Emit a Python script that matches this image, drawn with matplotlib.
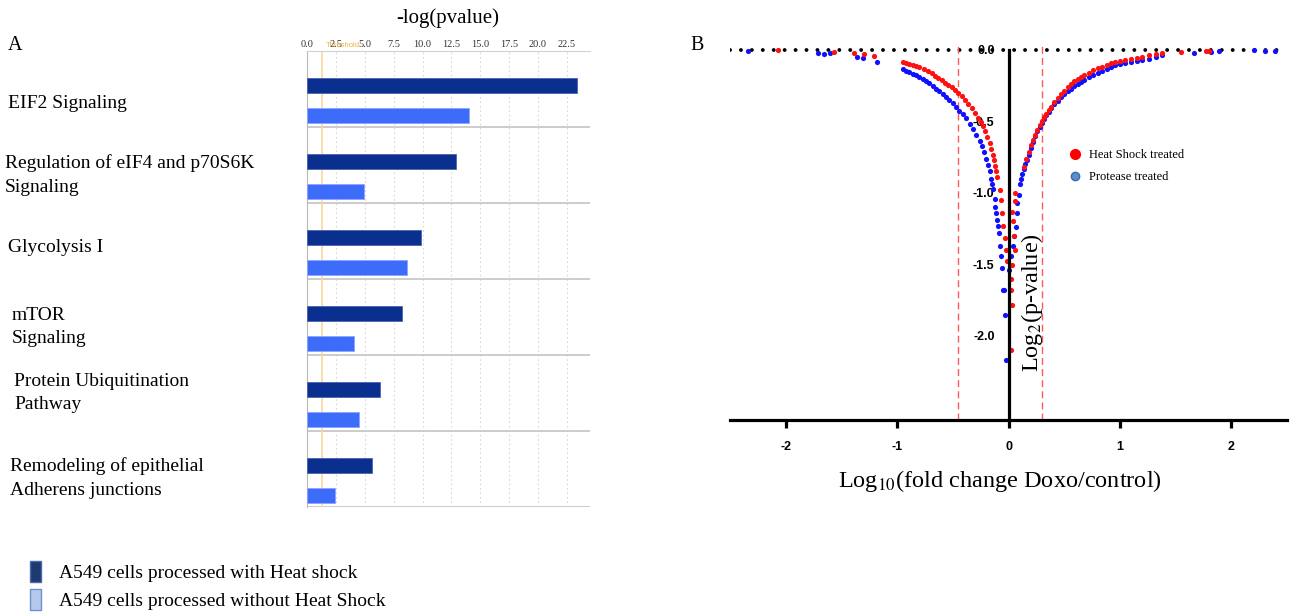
import matplotlib
matplotlib.use("Agg")
import matplotlib.pyplot as plt
from matplotlib.patches import Patch
from matplotlib.lines import Line2D
from matplotlib.ticker import FixedLocator

plt.rcParams['axes.unicode_minus'] = False
plt.rcParams['mathtext.fontset'] = 'stix'
SERIF = 'Liberation Serif'
SANS = 'Liberation Sans'

# ---------------- Panel A data ----------------
pathways = ["EIF2 Signaling",
            "Regulation of eIF4 and p70S6K\nSignaling",
            "Glycolysis I",
            "mTOR\nSignaling",
            "Protein Ubiquitination\nPathway",
            "Remodeling of epithelial\nAdherens junctions"]
with_heat_shock = [23.4, 12.9, 9.9, 8.2, 6.3, 5.6]
without_heat_shock = [14.0, 4.9, 8.7, 4.1, 4.5, 2.4]
threshold = 1.3
a_ticks = [0.0, 2.5, 5.0, 7.5, 10.0, 12.5, 15.0, 17.5, 20.0, 22.5]
legend_a = ["A549 cells processed with Heat shock",
            "A549 cells processed without Heat Shock"]

# ---------------- Panel B data ----------------
red_x = [-2.07, -1.57, -1.39, -1.30, -1.21,
         -0.95, -0.92, -0.89, -0.86, -0.83, -0.80, -0.76, -0.72, -0.69, -0.66,
         -0.63, -0.60, -0.57, -0.54, -0.51, -0.48, -0.45, -0.42, -0.39, -0.36,
         -0.33, -0.30, -0.27, -0.25, -0.23, -0.21, -0.19, -0.17, -0.155, -0.14,
         -0.13, -0.12, -0.11, -0.10,
         -0.078, -0.066, -0.057, -0.045, -0.027, -0.018, -0.010,
         0.060, 0.055, 0.033, 0.042, 0.048, 0.054, 0.033, 0.025, 0.018, 0.033, 0.018,
         0.14, 0.16, 0.18, 0.20, 0.22, 0.24, 0.26, 0.28, 0.30, 0.32, 0.34, 0.36,
         0.38, 0.41, 0.44, 0.47, 0.50, 0.53, 0.56, 0.59, 0.62, 0.65, 0.68, 0.72,
         0.76, 0.80, 0.84, 0.88, 0.92, 0.96, 1.00, 1.05, 1.10, 1.15, 1.20, 1.26,
         1.32, 1.38,
         1.55, 1.775, 1.80]
red_y = [0.0, -0.012, -0.023, -0.028, -0.040,
         -0.085, -0.092, -0.098, -0.104, -0.111, -0.119, -0.133, -0.150, -0.164, -0.180,
         -0.196, -0.212, -0.228, -0.244, -0.261, -0.279, -0.299, -0.322, -0.347, -0.375,
         -0.405, -0.438, -0.475, -0.502, -0.533, -0.568, -0.607, -0.652, -0.690, -0.735,
         -0.770, -0.810, -0.850, -0.890,
         -0.979, -1.049, -1.142, -1.230, -1.317, -1.399, -1.480,
         -1.000, -1.060, -1.131, -1.200, -1.305, -1.399, -1.503, -1.600, -1.678, -1.788, -2.098,
         -0.820, -0.765, -0.715, -0.668, -0.628, -0.592, -0.558, -0.527, -0.498, -0.470, -0.445, -0.420,
         -0.397, -0.366, -0.338, -0.311, -0.284, -0.258, -0.238, -0.220, -0.203, -0.188, -0.174, -0.158,
         -0.143, -0.129, -0.116, -0.104, -0.094, -0.086, -0.078, -0.068, -0.060, -0.053, -0.046, -0.038,
         -0.030, -0.022,
         -0.012, -0.010, -0.005]

blue_x = [-2.34, -1.71, -1.66, -1.60, -1.36, -1.31, -1.18,
          -0.95, -0.92, -0.89, -0.86, -0.83, -0.80, -0.77, -0.74, -0.71, -0.68,
          -0.65, -0.62, -0.59, -0.56, -0.53, -0.50, -0.47, -0.44, -0.41, -0.38,
          -0.35, -0.32, -0.29, -0.26, -0.24, -0.22, -0.20, -0.185, -0.17, -0.155,
          -0.145, -0.135,
          -0.125, -0.117, -0.110, -0.102, -0.095, -0.087, -0.072, -0.063, -0.057,
          -0.048, -0.040, -0.033, -0.024,
          0.093, 0.078, 0.072, 0.063, 0.050, 0.040, 0.018, 0.003,
          0.105, 0.115, 0.125, 0.135, 0.15, 0.165, 0.18, 0.20, 0.22, 0.24, 0.26,
          0.28, 0.30, 0.32, 0.34, 0.36, 0.38, 0.41, 0.44, 0.47, 0.50, 0.53, 0.56,
          0.59, 0.62, 0.65, 0.68, 0.72, 0.76, 0.80, 0.84, 0.88, 0.92, 0.96, 1.00,
          1.05, 1.10, 1.15, 1.20, 1.26, 1.32, 1.38,
          1.667, 1.82, 1.89, 2.20, 2.30, 2.39]
blue_y = [-0.005, -0.019, -0.028, -0.023, -0.051, -0.058, -0.086,
          -0.135, -0.144, -0.154, -0.165, -0.177, -0.189, -0.203, -0.218, -0.234, -0.251,
          -0.270, -0.290, -0.310, -0.330, -0.350, -0.372, -0.398, -0.425, -0.450, -0.477,
          -0.515, -0.555, -0.598, -0.640, -0.675, -0.715, -0.765, -0.805, -0.850, -0.900,
          -0.940, -0.975,
          -1.040, -1.096, -1.140, -1.189, -1.235, -1.282, -1.375, -1.445, -1.527,
          -1.678, -1.678, -1.858, -2.173,
          -1.014, -1.072, -1.142, -1.236, -1.300, -1.370, -1.445, -1.538,
          -0.940, -0.900, -0.865, -0.835, -0.800, -0.770, -0.735, -0.685, -0.643, -0.604, -0.570,
          -0.538, -0.508, -0.481, -0.456, -0.432, -0.408, -0.380, -0.354, -0.330, -0.308, -0.288, -0.270,
          -0.254, -0.238, -0.224, -0.210, -0.192, -0.176, -0.160, -0.146, -0.133, -0.120, -0.108, -0.098,
          -0.090, -0.083, -0.077, -0.071, -0.060, -0.048, -0.035,
          -0.019, -0.012, -0.008, -0.003, -0.004, -0.004]

fc_thresholds = [-0.45, 0.30]
b_xticks = [-2, -1, 0, 1, 2]
b_yticks = [0.0, -0.5, -1.0, -1.5, -2.0]
legend_b = ["Heat Shock treated", "Protease treated"]

W, H = 1294, 614
fig = plt.figure(figsize=(W / 100, H / 100), dpi=100)

# ---------------- Panel A ----------------
axA = fig.add_axes([307 / W, 1 - 507 / H, 283 / W, 456 / H])
n = len(pathways)
rows = list(range(n))
dark = '#0b2f8e'
light = '#3d6cfa'
axA.barh([r + 0.45 for r in rows], with_heat_shock, height=0.2, color=dark,
         edgecolor='#4a64b0', linewidth=0.6, zorder=3)
axA.barh([r + 0.845 for r in rows], without_heat_shock, height=0.2, color=light,
         edgecolor='#8aa4ff', linewidth=0.6, zorder=3)
axA.set_xlim(0, 24.5)
axA.set_ylim(n, 0)
for r in range(1, n + 1):
    axA.axhline(r, color='#c8c8c8', lw=1.3, zorder=2)
for t in a_ticks[1:]:
    axA.axvline(t, color='#d6d6d6', lw=0.8, ls=(0, (1.5, 2.5)), zorder=1)
axA.axvline(threshold, color='#f7d8a0', lw=1.2, zorder=2)
axA.xaxis.tick_top()
axA.set_xticks(a_ticks)
axA.set_xticklabels([f"{t:.1f}" for t in a_ticks], fontsize=7.5, family=SERIF,
                    color='#333333')
axA.tick_params(axis='x', length=0, pad=1.5)
axA.set_yticks([])
for s in ['right', 'bottom']:
    axA.spines[s].set_visible(False)
axA.spines['top'].set_color('#d0d0d0')
axA.spines['left'].set_color('#b8b8b8')
axA.text(threshold + 0.3, 1.005, "Threshold", transform=axA.get_xaxis_transform(),
         fontsize=5.5, color='#f0b040', family=SANS, ha='left', va='bottom')
fig.text(448 / W, 1 - 18 / H, "-log(pvalue)", fontsize=15, family=SERIF,
         ha='center', va='center')
fig.text(8 / W, 1 - 45 / H, "A", fontsize=14.5, family=SERIF, ha='left', va='center')

label_pos = [(8, 104), (5, 175), (8, 247), (12, 327), (14, 393), (10, 478)]
for lab, (px, py) in zip(pathways, label_pos):
    fig.text(px / W, 1 - py / H, lab, fontsize=14, family=SERIF, ha='left',
             va='center', linespacing=1.5)

handles = [Patch(facecolor='#1d3a72', edgecolor='#4a6aa8'),
           Patch(facecolor='#b4c9ec', edgecolor='#6d8fcf')]
fig.legend(handles, legend_a, loc='upper left', bbox_to_anchor=(22 / W, 1 - 553 / H),
           frameon=False, prop={'family': SERIF, 'size': 14}, handlelength=0.6,
           handleheight=1.3, handletextpad=0.9, labelspacing=0.35, borderaxespad=0)

# ---------------- Panel B ----------------
ylo, yhi = -2.59, 0.05
top_px = 50 - yhi * 143
axB = fig.add_axes([730 / W, 1 - 420 / H, 557 / W, (420 - top_px) / H])
axB.set_xlim(-2.5, 2.5)
axB.set_ylim(ylo, yhi)
axB.axhline(0, color='black', lw=2.8, ls=(0, (0.01, 2.8)), dash_capstyle='round',
            zorder=1)
for v in fc_thresholds:
    axB.axvline(v, color='#ff5a5a', lw=1.0, ls=(0, (5, 3)), zorder=1)
axB.scatter(blue_x, blue_y, s=14, color='#1010ff', linewidths=0, zorder=3)
axB.scatter(red_x, red_y, s=14, color='#ff1010', linewidths=0, zorder=4)

for s in ['top', 'right']:
    axB.spines[s].set_visible(False)
axB.spines['left'].set_position(('data', 0))
axB.spines['left'].set_bounds(ylo, 0)
axB.spines['left'].set_linewidth(2.3)
axB.spines['left'].set_zorder(5)
axB.spines['bottom'].set_linewidth(2.3)
axB.set_xticks(b_xticks)
axB.set_xticklabels([str(t) for t in b_xticks], fontsize=9, fontweight='bold',
                    family=SANS)
axB.tick_params(axis='x', length=6, width=2.3, pad=9)
axB.set_yticks(b_yticks)
axB.set_yticklabels([f"{t:.1f}" for t in b_yticks], fontsize=9, fontweight='bold',
                    family=SANS)
axB.tick_params(axis='y', length=0, pad=10)
axB.yaxis.set_minor_locator(FixedLocator([0.0]))
axB.tick_params(axis='y', which='minor', length=6, width=2)

fig.text(1032 / W, 1 - 303 / H, "Log$_2$(p-value)", rotation=90, fontsize=17.5,
         family=SERIF, ha='center', va='center')
fig.text(1000 / W, 1 - 481 / H, "Log$_{10}$(fold change Doxo/control)", fontsize=17.5,
         family=SERIF, ha='center', va='center')
fig.text(690 / W, 1 - 45 / H, "B", fontsize=14.5, family=SERIF, ha='left', va='center')

hb = [Line2D([], [], ls='none', marker='o', markersize=7, color='#ff0000'),
      Line2D([], [], ls='none', marker='o', markersize=6, markerfacecolor='#5b8fd0',
             markeredgecolor='#3d6aa8')]
fig.legend(hb, legend_b, loc='upper left', bbox_to_anchor=(1064 / W, 1 - 144 / H),
           frameon=False, prop={'family': SERIF, 'size': 9}, handlelength=1.0,
           handletextpad=0.6, labelspacing=0.8, borderaxespad=0)

fig.savefig("out.png", dpi=100)
